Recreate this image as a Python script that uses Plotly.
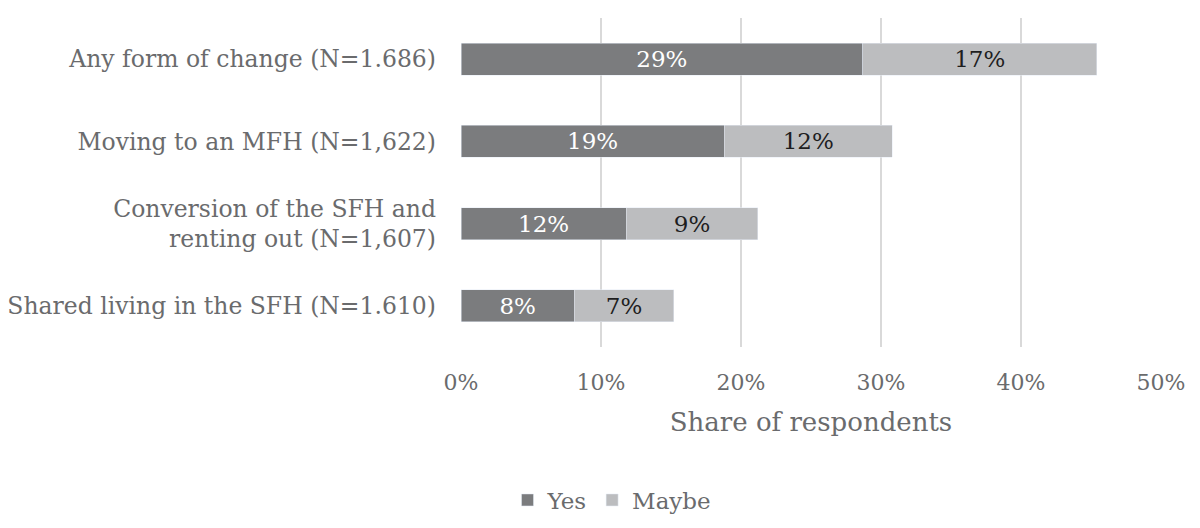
import plotly.graph_objects as go

# survey answers, share of respondents
categories = ['Any form of change (N=1.686)', 'Moving to an MFH (N=1,622)',
              'Conversion of the SFH and<br>renting out (N=1,607)',
              'Shared living in the SFH (N=1.610)']
yes = [0.287, 0.188, 0.118, 0.081]
maybe = [0.167, 0.120, 0.094, 0.071]

font_name = 'DejaVu Serif'
grey_text = '#6a6b6d'

fig = go.Figure()
fig.add_trace(go.Bar(y=categories, x=yes, name='Yes', orientation='h',
                     marker=dict(color='#7b7c7e'),
                     texttemplate='%{x:.0%}', textposition='inside',
                     insidetextanchor='middle',
                     textfont=dict(color='white', size=23, family=font_name)))
fig.add_trace(go.Bar(y=categories, x=maybe, name='Maybe', orientation='h',
                     marker=dict(color='#bcbdbf'),
                     texttemplate='%{x:.0%}', textposition='inside',
                     insidetextanchor='middle',
                     textfont=dict(color='#1e1e1e', size=23, family=font_name)))

fig.update_layout(
    barmode='stack', bargap=0.61,
    width=1200, height=528,
    margin=dict(l=461, r=39, t=18, b=181),
    plot_bgcolor='white', paper_bgcolor='white',
    font=dict(family=font_name, color=grey_text, size=21),
    legend=dict(orientation='h', xref='container', x=0.51, xanchor='center',
                yref='container', y=0.053, yanchor='middle',
                font=dict(size=23, color=grey_text), traceorder='normal',
                itemwidth=30),
    xaxis=dict(range=[0, 0.5], dtick=0.1, tickformat='.0%', automargin=False,
               showgrid=True, gridcolor='#d9d9d9', gridwidth=2,
               zeroline=False, showline=False, ticks='',
               ticklabelstandoff=20, tickfont=dict(size=22, color=grey_text),
               title=dict(text='Share of respondents', standoff=18,
                          font=dict(size=26, color=grey_text))),
    yaxis=dict(autorange='reversed', showgrid=False, zeroline=False, automargin=False,
               showline=False, ticks='', ticklabelstandoff=24,
               tickfont=dict(size=23.5, color=grey_text)),
)

# drop the default page margin so the figure sits at the window corner
fig.write_html("out.html", config={'displayModeBar': False},
               post_script="document.body.style.margin='0';")
